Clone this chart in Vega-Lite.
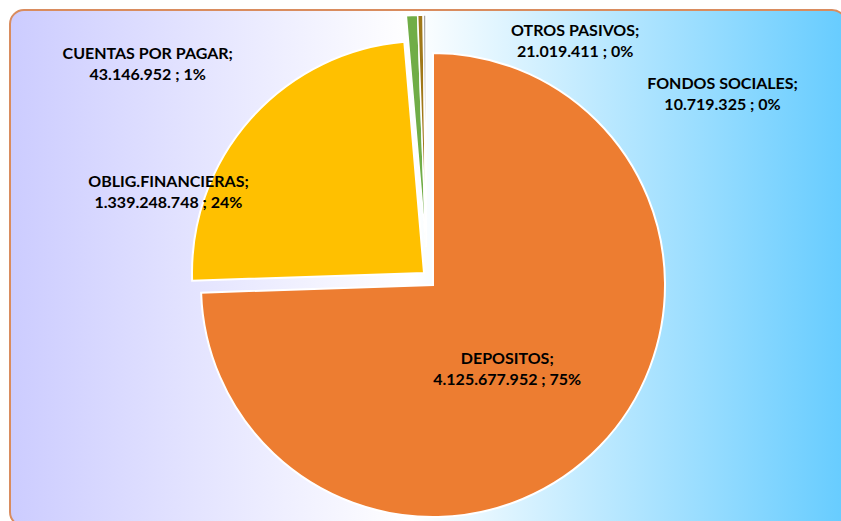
{
  "$schema": "https://vega.github.io/schema/vega-lite/v6.json",
  "width": 836,
  "height": 516,
  "autosize": "none",
  "padding": {"left": 10, "top": 10, "right": 0, "bottom": 0},
  "background": "white",
  "config": {"view": {"stroke": null}},
  "data": {"values": [
    {"cat": "DEPOSITOS", "idx": 1, "value": 4125677952, "label": "DEPOSITOS;\n4.125.677.952 ; 75%"},
    {"cat": "OBLIG.FINANCIERAS", "idx": 2, "value": 1339248748, "label": "OBLIG.FINANCIERAS;\n1.339.248.748 ; 24%"},
    {"cat": "CUENTAS POR PAGAR", "idx": 3, "value": 43146952, "label": "CUENTAS POR PAGAR;\n43.146.952 ; 1%"},
    {"cat": "OTROS PASIVOS", "idx": 4, "value": 21019411, "label": "OTROS PASIVOS;\n21.019.411 ; 0%"},
    {"cat": "FONDOS SOCIALES", "idx": 5, "value": 10719325, "label": "FONDOS SOCIALES;\n10.719.325 ; 0%"}
  ]},
  "transform": [
    {"stack": "value", "groupby": [], "sort": [{"field": "idx", "order": "ascending"}], "as": ["v0", "v1"]},
    {"calculate": "(datum.v0 + datum.v1) / 2", "as": "vm"}
  ],
  "layer": [
    {
      "transform": [{"filter": "datum.idx === 1"}],
      "mark": {"type": "rect", "cornerRadius": 14, "stroke": "#D98C5F", "strokeWidth": 2,
        "fill": {"gradient": "linear", "x1": 0, "y1": 0, "x2": 1, "y2": 0,
          "stops": [
            {"offset": 0, "color": "#CCCCFF"},
            {"offset": 0.48, "color": "#FFFFFF"},
            {"offset": 1, "color": "#66CCFF"}
          ]}},
      "encoding": {}
    },
    {
      "transform": [{"filter": "datum.cat === 'DEPOSITOS'"}],
      "mark": {"type": "arc", "radius": 232, "stroke": "white", "strokeWidth": 2, "xOffset": 5, "yOffset": 17},
      "encoding": {
        "theta": {"field": "v0", "type": "quantitative", "scale": {"domain": [0, 5539812388]}},
        "theta2": {"field": "v1"},
        "color": {"field": "cat", "type": "nominal", "legend": null,
          "scale": {"domain": ["DEPOSITOS", "OBLIG.FINANCIERAS", "CUENTAS POR PAGAR", "OTROS PASIVOS", "FONDOS SOCIALES"],
                    "range": ["#ED7D31", "#FFC000", "#70AD47", "#A07818", "#A5A5A5"]}}
      }
    },
    {
      "transform": [{"filter": "datum.cat === 'OBLIG.FINANCIERAS'"}],
      "mark": {"type": "arc", "radius": 232, "stroke": "white", "strokeWidth": 2, "xOffset": -4, "yOffset": 5},
      "encoding": {
        "theta": {"field": "v0", "type": "quantitative", "scale": {"domain": [0, 5539812388]}},
        "theta2": {"field": "v1"},
        "color": {"field": "cat", "type": "nominal", "legend": null}
      }
    },
    {
      "transform": [{"filter": "datum.idx >= 3"}],
      "mark": {"type": "arc", "radius": 232, "stroke": "white", "strokeWidth": 1.5, "xOffset": -2, "yOffset": -21},
      "encoding": {
        "theta": {"field": "v0", "type": "quantitative", "scale": {"domain": [0, 5539812388]}},
        "theta2": {"field": "v1"},
        "color": {"field": "cat", "type": "nominal", "legend": null}
      }
    },
    {
      "transform": [{"filter": "datum.cat === 'DEPOSITOS'"}],
      "mark": {"type": "text", "radius": 120, "dx": -7, "dy": 8, "font": "Lato", "fontWeight": "bold", "fontSize": 16, "lineBreak": "\n", "lineHeight": 21, "align": "center", "baseline": "middle", "color": "#000000"},
      "encoding": {"theta": {"field": "vm", "type": "quantitative"}, "text": {"field": "label"}}
    },
    {
      "transform": [{"filter": "datum.cat === 'OBLIG.FINANCIERAS'"}],
      "mark": {"type": "text", "radius": 200, "dx": -110, "dy": 47, "font": "Lato", "fontWeight": "bold", "fontSize": 16, "lineBreak": "\n", "lineHeight": 21, "align": "center", "baseline": "middle", "color": "#000000"},
      "encoding": {"theta": {"field": "vm", "type": "quantitative"}, "text": {"field": "label"}}
    },
    {
      "transform": [{"filter": "datum.cat === 'CUENTAS POR PAGAR'"}],
      "mark": {"type": "text", "radius": 220, "dx": -267, "dy": 6, "font": "Lato", "fontWeight": "bold", "fontSize": 16, "lineBreak": "\n", "lineHeight": 21, "align": "center", "baseline": "middle", "color": "#000000"},
      "encoding": {"theta": {"field": "vm", "type": "quantitative"}, "text": {"field": "label"}}
    },
    {
      "transform": [{"filter": "datum.cat === 'OTROS PASIVOS'"}],
      "mark": {"type": "text", "radius": 240, "dx": 153, "dy": 3, "font": "Lato", "fontWeight": "bold", "fontSize": 16, "lineBreak": "\n", "lineHeight": 21, "align": "center", "baseline": "middle", "color": "#000000"},
      "encoding": {"theta": {"field": "vm", "type": "quantitative"}, "text": {"field": "label"}}
    },
    {
      "transform": [{"filter": "datum.cat === 'FONDOS SOCIALES'"}],
      "mark": {"type": "text", "radius": 240, "dx": 296, "dy": 56, "font": "Lato", "fontWeight": "bold", "fontSize": 16, "lineBreak": "\n", "lineHeight": 21, "align": "center", "baseline": "middle", "color": "#000000"},
      "encoding": {"theta": {"field": "vm", "type": "quantitative"}, "text": {"field": "label"}}
    }
  ]
}
